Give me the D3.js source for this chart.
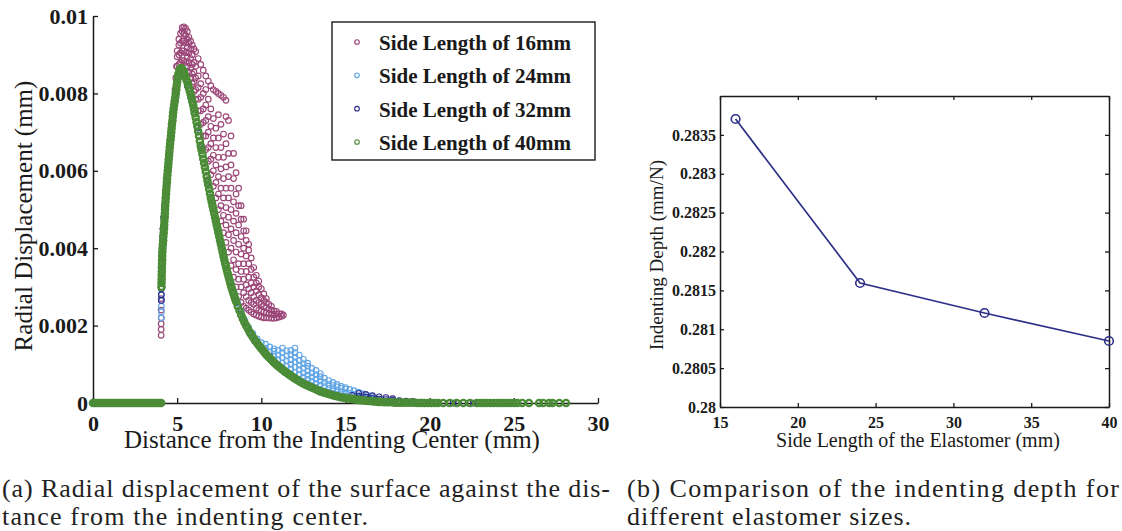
<!DOCTYPE html>
<html>
<head>
<meta charset="utf-8">
<script src="https://cdn.jsdelivr.net/npm/d3@7"></script>
<style>
	body{margin:0;background:white}
	svg{display:block}
</style>
</head>
<body>
<svg></svg>
<script>
var w = 1122
var h = 531
var backColor = "white"
var fontFam = "'Liberation Serif', 'Times New Roman', serif"

// ---- panel (a): radial displacement (mm) vs distance from center (mm)
// every row is [x, y, y, ...] : one distance and the readings at it
var xTicksA = [0, 5, 10, 15, 20, 25, 30]
var yTicksA = [0, 0.002, 0.004, 0.006, 0.008, 0.01]
var yTickLabelsA = ["0", "0.002", "0.004", "0.006", "0.008", "0.01"]
var seriesNames = ["Side Length of 16mm", "Side Length of 24mm", "Side Length of 32mm", "Side Length of 40mm"]

var side16 = [
	[4.05,.00175,.0019,.00205,.0022,.0024,.0027,.003],[4.06,.0033],[4.08,.0036],[4.1,.0039],[4.13,.0042],[4.17,.0045],
	[4.21,.0048],[4.25,.0051],[4.3,.0054],[4.35,.0057],[4.41,.006],[4.47,.0063],[4.53,.0066],[4.6,.0069],[4.67,.0072],
	[4.74,.0075],[4.81,.0078],[4.87,.0081],[4.92,.0084],[4.96,.0087],
	[5.0,.0087,.00895,.0091],
	[5.1,.00875,.009,.00925,.0094],
	[5.2,.0088,.00905,.0093,.00955],
	[5.3,.00885,.0091,.00935,.0096,.0097],
	[5.4,.00885,.0091,.00935,.00955,.00972],
	[5.5,.0088,.00905,.0093,.0095,.00968],
	[5.6,.0087,.00895,.0092,.0094,.0096],
	[5.7,.00855,.0088,.00905,.0093,.00945],
	[5.8,.0084,.00865,.0089,.00915,.00935],
	[5.9,.00825,.0085,.00875,.009,.00925],
	[6.0,.00805,.0083,.00855,.0088,.00915],
	[6.1,.00785,.0081,.0084,.0087,.00908],
	[6.25,.00755,.00785,.00815,.00845,.0089],
	[6.4,.0072,.00755,.0079,.00825,.00875],
	[6.55,.0069,.00725,.0076,.008,.0086],
	[6.7,.00655,.0069,.0073,.0077,.0081,.00845],
	[6.85,.00625,.0066,.007,.0074,.00785,.00832],
	[7.0,.0059,.0063,.0067,.00715,.0076,.0082],
	[7.15,.0056,.006,.0064,.00685,.00735,.0081],
	[7.3,.0053,.0057,.00615,.0066,.0071,.00805],
	[7.45,.005,.0054,.00585,.00635,.00685,.00745,.008],
	[7.6,.0047,.0051,.00555,.00605,.0066,.0072,.00795],
	[7.75,.0044,.00485,.0053,.0058,.00635,.00695,.0079],
	[7.9,.00415,.0046,.00505,.00555,.0061,.0067,.0074,.00782],
	[8.05,.0039,.00435,.0048,.0053,.00585,.00645,.0073],
	[8.2,.00355,.004,.0045,.005,.00555,.00615,.0069],
	[8.35,.00325,.0037,.0042,.0047,.0052,.0058,.00645],
	[8.5,.003,.00345,.0039,.0044,.0049,.0054,.00595],
	[8.65,.00275,.0032,.0036,.0041,.0046,.0051,.00555],
	[8.8,.0026,.003,.0034,.00385,.0043,.00475,.0051],
	[8.95,.0025,.00285,.0032,.0036,.004,.00445,.00475],
	[9.1,.00245,.00275,.00305,.0034,.0038,.0042,.00445],
	[9.25,.0024,.00265,.00295,.00325,.0036,.00395,.0041],
	[9.4,.00235,.0026,.00285,.0031,.00345,.00375],
	[9.55,.0023,.00255,.00275,.003,.00325,.0035],
	[9.7,.00227,.00245,.00265,.0029,.0031,.0033],
	[9.85,.00224,.0024,.0026,.0028,.003,.00315],
	[10,.00222,.00238,.00255,.00272,.00295],
	[10.15,.0022,.00235,.0025,.00265,.00282],
	[10.3,.0022,.00233,.00246,.0026,.0027],
	[10.45,.0022,.00231,.00242,.00255],
	[10.6,.00219,.0023,.0024,.0025],
	[10.75,.00219,.00228,.00238],
	[10.9,.0022,.0023,.00237],
	[11.05,.00222,.0023],
	[11.2,.00224,.0023],
	[11.31,.00227]
]

var side24 = [
	[4.06,.0022,.00235,.0025,.00265,.0028],
	[4.1,.0036],[4.2,.0044],[4.3,.0051],[4.45,.006],[4.6,.0068],[4.8,.0077],[5.0,.0083],[5.2,.0086],[5.45,.0085],
	[5.7,.0081],[6.0,.0076],[6.3,.0069],[6.6,.0062],[6.9,.0055],[7.2,.0049],[7.5,.0043],
	[7.6,.00416],[7.8,.00378],[8.0,.00343],[8.2,.00311],[8.4,.00283],[8.6,.00258],[8.8,.00236],
	[9.0,.00214],[9.25,.00195],[9.5,.00174,.0018],[9.75,.00158,.00166],[10,.00145,.00156],
	[10.25,.00131,.00142,.00152],
	[10.5,.0012,.00132,.00145],
	[10.75,.0011,.00122,.00134,.0014],
	[11,.001,.00112,.00124,.00136],
	[11.25,.00092,.00104,.00117,.0013,.00142],
	[11.5,.00083,.00096,.00109,.00122,.00135],
	[11.75,.00076,.00088,.001,.00112,.00125,.00136],
	[12,.00068,.0008,.00093,.00106,.00118,.0013,.00142],
	[12.25,.00062,.00074,.00086,.00098,.0011,.00124],
	[12.5,.00056,.00067,.00078,.0009,.00102,.00113],
	[12.75,.0005,.00061,.00072,.00083,.00095,.00103],
	[13,.00045,.00056,.00067,.00078,.0009],
	[13.25,.0004,.00051,.00062,.00073,.00084],
	[13.5,.00035,.00046,.00057,.00068,.00076],
	[13.75,.00031,.00042,.00053,.00064],
	[14,.00028,.00038,.00048,.00058],
	[14.25,.00025,.00035,.00045,.00053],
	[14.5,.00022,.00032,.00042,.00048],
	[14.75,.00019,.00029,.00038,.00043],
	[15,.00017,.00027,.00036,.0004],
	[15.25,.00015,.00025,.00035],
	[15.5,.00013,.00022,.00032],
	[15.75,.00011,.00019,.00028],
	[16,.0001,.00017,.00024],
	[16.3,.00008,.00014,.0002],
	[16.6,.00006,.00011,.00016],
	[16.9,.00005,.00009]
]

var side32 = [
	[4.06,.00265,.0028,.00295],[4.07,.0031,.0033],[4.08,.0035],[4.09,.0037],[4.1,.0039],[4.11,.0041],[4.13,.0043],
	[4.15,.0045],[4.2,.0048],[4.25,.0051],[4.3,.0054],[4.36,.0057],[4.42,.006],[4.49,.0064],[4.57,.0068],[4.66,.0072],
	[4.76,.0076],[4.88,.008],[5.0,.0083],[5.12,.0085],[5.25,.00858],[5.4,.0085],[5.6,.0082],[5.8,.0079],[6.0,.0075],
	[6.2,.0071],[6.4,.0066],[6.6,.0062],[6.8,.0057],[7.0,.0053],[7.2,.0049],[7.4,.0045],[7.6,.0041],[7.8,.0037],
	[8.0,.0034],[8.25,.003],[8.5,.0026],[8.75,.0023],[9,.0021],[9.3,.0018],[9.6,.0016],[10,.0014],[10.5,.0012],
	[11,.00096],[11.5,.00078],[12,.00064],[12.5,.00051],[13,.0004],[13.5,.00031],[14,.00024],[14.5,.00018],[15,.00014],
	[15.4,.00012,.0002],[15.8,.0001,.00017,.00025],[16.2,.00008,.00015,.00022],[16.6,.00006,.00012,.00019],
	[17,.00005,.0001,.00016],[17.4,.00004,.00009,.00014],[17.8,.00003,.00007,.00011],[18.2,.00003,.00006],
	[18.6,.00002,.00005],[19,.00002,.00004],[19.5,.00002],[20,.00001],[20.4,.00001],[20.8,0],[21.1,0],[21.4,0],
	[21.7,0],[22,0],[22.3,0],[22.6,0]
]

var side40 = [
	[0,0],[.12,0],[.24,0],[.36,0],[.48,0],[.6,0],[.72,0],[.84,0],[.96,0],[1.08,0],[1.2,0],[1.32,0],[1.44,0],[1.56,0],
	[1.68,0],[1.8,0],[1.92,0],[2.04,0],[2.16,0],[2.28,0],[2.4,0],[2.52,0],[2.64,0],[2.76,0],[2.88,0],[3,0],[3.12,0],
	[3.24,0],[3.36,0],[3.48,0],[3.6,0],[3.72,0],[3.84,0],[3.96,0],[4.05,0],
	[4.07,.003,.0031],[4.08,.0032,.0033],[4.09,.0034,.0035],[4.1,.0036],[4.11,.0037,.0038],[4.12,.0039],[4.13,.004],
	[4.15,.0041],[4.17,.0042],[4.18,.0043],[4.2,.0044],[4.22,.0045],[4.23,.0046],[4.24,.0047],[4.26,.0048],[4.27,.0049],
	[4.28,.005],[4.29,.0051],[4.31,.0052],[4.32,.0053],[4.34,.0054],[4.35,.0055],[4.37,.0056],[4.39,.0057],[4.4,.0058],
	[4.42,.0059],[4.44,.006],[4.46,.0061],[4.48,.0062],[4.5,.0063],[4.52,.0064],[4.54,.0065],[4.56,.0066],[4.58,.0067],
	[4.61,.0068],[4.63,.0069],[4.65,.007],[4.67,.0071],[4.69,.0072],[4.72,.0073],[4.74,.0074],[4.76,.0075],[4.79,.0076],
	[4.82,.0077],[4.86,.0078],[4.89,.0079],[4.92,.008],[4.95,.0081],[4.97,.0082],[5,.0083],[5.04,.0084],[5.07,.0085],
	[5.13,.0086],[5.2,.00865],
	[5.25,.00865],[5.3,.00863],[5.35,.00859],[5.4,.00855],[5.45,.00849],[5.5,.00843],[5.55,.00836],[5.6,.0083],
	[5.65,.00822],[5.7,.00814],[5.75,.00806],[5.8,.00798],[5.85,.00789],[5.9,.00779],[5.95,.0077],[6,.0076],
	[6.05,.00749],[6.1,.00738],[6.15,.00726],[6.2,.00715],[6.25,.00702],[6.3,.0069],[6.35,.00677],[6.4,.00665],
	[6.45,.00654],[6.5,.00643],[6.55,.00631],[6.6,.0062],[6.65,.00609],[6.7,.00598],[6.75,.00586],[6.8,.00575],
	[6.85,.00564],[6.9,.00553],[6.95,.00541],[7,.0053],[7.05,.0052],[7.1,.0051],[7.15,.005],[7.2,.0049],[7.25,.0048],
	[7.3,.0047],[7.35,.0046],[7.4,.0045],[7.45,.0044],[7.5,.0043],[7.55,.0042],[7.6,.0041],[7.65,.004],[7.7,.0039],
	[7.75,.0038],[7.8,.0037],[7.85,.00361],[7.9,.00353],[7.95,.00344],[8,.00335],[8.05,.00327],[8.1,.00319],
	[8.15,.00311],[8.2,.00303],[8.25,.00296],[8.3,.00289],[8.35,.00282],[8.4,.00275],[8.45,.00269],[8.5,.00263],
	[8.6,.0025],[8.7,.00239],[8.8,.00228],[8.9,.00218],[9,.00208],[9.1,.002],[9.2,.00192],[9.3,.00184],[9.4,.00177],
	[9.5,.0017],[9.6,.00164],[9.7,.00158],[9.8,.00152],[9.9,.00146],[10,.00141],[10.1,.00136],[10.2,.0013],
	[10.3,.00125],[10.4,.0012],[10.5,.00116],[10.6,.00112],[10.7,.00107],[10.8,.00103],[10.9,.00099],[11,.00095],
	[11.1,.00092],[11.2,.00088],[11.3,.00085],[11.4,.00081],[11.5,.00078],[11.6,.00075],[11.7,.00072],[11.8,.00069],
	[11.9,.00066],[12,.00063],[12.15,.00059],[12.3,.00055],[12.45,.00051],[12.6,.00048],[12.75,.00045],[12.9,.00042],
	[13.05,.00039],[13.2,.00036],[13.35,.00033],[13.5,.0003],[13.65,.00028],[13.8,.00026],[13.95,.00024],[14.1,.00022],
	[14.25,.0002],[14.4,.00018],[14.55,.00017],[14.7,.00015],[14.85,.00014],[15,.00013],[15.15,.00012],[15.3,.00011],
	[15.45,.0001],[15.6,.00009],[15.75,.00008],[15.9,.00007],[16.05,.00007],[16.2,.00006],[16.35,.00005],[16.5,.00005],
	[16.65,.00004],[16.8,.00004],[16.95,.00003],[17.1,.00003],[17.3,.00002],[17.5,.00002],[17.7,.00002],[17.9,.00001],
	[18.1,.00001],[18.3,.00001],[18.5,.00001],[18.7,.00001],[18.9,.00001],[19.1,.00001],[19.3,0],[19.5,0],[19.7,0],
	[19.9,0],[20.1,0],[20.3,0],[20.5,0],[20.8,0],[21.2,0],[21.6,0],[22,0],[22.4,0],[22.8,0],[23,0],[23.2,0],[23.4,0],
	[23.6,0],[23.8,0],[24,0],[24.2,0],[24.4,0],[24.6,0],[24.8,0],[25,0],[25.2,0],[25.5,0],[25.9,0],[26.5,0],[26.75,0],
	[27.1,0],[27.3,0],[27.7,0],[28.1,0]
]

var allSeries = [side16, side24, side32, side40]
var seriesColors = ["#9b4678", "#62a6e6", "#2b2c86", "#4b8c37"]

// ---- panel (b): indenting depth (mm/N) vs side length (mm)
var sideLengths = [16, 24, 32, 40]
var indentDepth = [0.283704, 0.281595, 0.281209, 0.280849]
var xTicksB = [15, 20, 25, 30, 35, 40]
var yTicksB = [0.28, 0.2805, 0.281, 0.2815, 0.282, 0.2825, 0.283, 0.2835]
var yTickLabelsB = ["0.28", "0.2805", "0.281", "0.2815", "0.282", "0.2825", "0.283", "0.2835"]
var lineColor = "#2e3088"

var captionA = ["(a) Radial displacement of the surface against the dis-", "tance from the indenting center."]
var captionB = ["(b) Comparison of the indenting depth for", "different elastomer sizes."]


var svg = d3.select("svg")
	.attr("width", w)
	.attr("height", h)
	.style("background-color", backColor)
	.style("font-family", fontFam)

//scales
var xA = d3.scaleLinear().domain([0, 30]).range([93, 598])
var yA = d3.scaleLinear().domain([0, 0.01]).range([403, 16])
var xB = d3.scaleLinear().domain([15, 40]).range([720, 1109])
var yB = d3.scaleLinear().domain([0.28, 0.284]).range([407, 96])

function styleAxis(g, size){
	g.select(".domain").attr("stroke", "#1a1a1a").attr("stroke-width", 1.5)
	g.selectAll(".tick line").attr("stroke", "#1a1a1a").attr("stroke-width", 1.3)
	g.selectAll(".tick text")
		.attr("fill", "#1a1a1a")
		.style("font-family", fontFam)
		.style("font-size", size + "px")
		.style("font-weight", "bold")
}

// ===== panel (a) axes
var axA = svg.append("g")

var yAxisA = axA.append("g")
	.attr("transform", "translate(" + xA(0) + ",0)")
	.call(d3.axisLeft(yA).tickValues(yTicksA).tickSize(-5).tickSizeOuter(0).tickPadding(5)
		.tickFormat(function(d, i){ return yTickLabelsA[i] }))
styleAxis(yAxisA, 22)

var xAxisA = axA.append("g")
	.attr("transform", "translate(0," + yA(0) + ")")
	.call(d3.axisBottom(xA).tickValues(xTicksA).tickSize(-5).tickSizeOuter(0).tickPadding(12)
		.tickFormat(d3.format("d")))
styleAxis(xAxisA, 22)

axA.append("text")
	.attr("x", 332)
	.attr("y", 448)
	.attr("text-anchor", "middle")
	.style("font-size", "25px")
	.attr("fill", "#1a1a1a")
	.text("Distance from the Indenting Center (mm)")

axA.append("text")
	.attr("transform", "translate(32,216) rotate(-90)")
	.attr("text-anchor", "middle")
	.style("font-size", "25px")
	.attr("fill", "#1a1a1a")
	.text("Radial Displacement (mm)")

// scatter points, 16mm drawn first so 40mm ends on top
allSeries.forEach(function(rows, si){
	var pts = []
	rows.forEach(function(r){
		for (var k = 1; k < r.length; k++) pts.push([r[0], r[k]])
	})
	var big = si == 3
	svg.append("g")
		.attr("class", "series" + si)
		.selectAll("circle")
		.data(pts)
		.enter()
		.append("circle")
		.attr("cx", function(d){ return xA(d[0]) })
		.attr("cy", function(d){ return yA(d[1]) })
		.attr("r", big ? 3.1 : 2.8)
		.attr("fill", "none")
		.attr("stroke", seriesColors[si])
		.attr("stroke-width", big ? 2.4 : 1.15)
})

//legend
var leg = svg.append("g")
leg.append("rect")
	.attr("x", 332)
	.attr("y", 22)
	.attr("width", 263)
	.attr("height", 138)
	.attr("fill", "white")
	.attr("stroke", "#1a1a1a")
	.attr("stroke-width", 1.4)

var legY = d3.scalePoint().domain(seriesNames).range([42, 142])

leg.selectAll("circle")
	.data(seriesNames)
	.enter()
	.append("circle")
	.attr("cx", 357)
	.attr("cy", function(d){ return legY(d) })
	.attr("r", 2.3)
	.attr("fill", "none")
	.attr("stroke", function(d, i){ return seriesColors[i] })
	.attr("stroke-width", 1.1)

leg.selectAll("text")
	.data(seriesNames)
	.enter()
	.append("text")
	.attr("x", 379)
	.attr("y", function(d){ return legY(d) + 8 })
	.style("font-size", "21px")
	.style("font-weight", "bold")
	.attr("fill", "#1a1a1a")
	.text(function(d){ return d })

// ===== panel (b)
var axB = svg.append("g")

var yAxisB = axB.append("g")
	.attr("transform", "translate(" + xB(15) + ",0)")
	.call(d3.axisLeft(yB).tickValues(yTicksB).tickSize(-4).tickSizeOuter(0).tickPadding(4)
		.tickFormat(function(d, i){ return yTickLabelsB[i] }))
styleAxis(yAxisB, 16)

var xAxisB = axB.append("g")
	.attr("transform", "translate(0," + yB(0.28) + ")")
	.call(d3.axisBottom(xB).tickValues(xTicksB).tickSize(-4).tickSizeOuter(0).tickPadding(10)
		.tickFormat(d3.format("d")))
styleAxis(xAxisB, 16)

var topB = axB.append("g")
	.attr("transform", "translate(0," + yB(0.284) + ")")
	.call(d3.axisTop(xB).tickValues(xTicksB).tickSize(-4).tickSizeOuter(0).tickFormat(""))
styleAxis(topB, 16)

var rightB = axB.append("g")
	.attr("transform", "translate(" + xB(40) + ",0)")
	.call(d3.axisRight(yB).tickValues(yTicksB).tickSize(-4).tickSizeOuter(0).tickFormat(""))
styleAxis(rightB, 16)

axB.append("text")
	.attr("x", 918)
	.attr("y", 447)
	.attr("text-anchor", "middle")
	.style("font-size", "20px")
	.attr("fill", "#1a1a1a")
	.text("Side Length of the Elastomer (mm)")

axB.append("text")
	.attr("transform", "translate(663,255) rotate(-90)")
	.attr("text-anchor", "middle")
	.style("font-size", "19px")
	.attr("fill", "#1a1a1a")
	.text("Indenting Depth (mm/N)")

var depthLine = d3.line()
	.x(function(d, i){ return xB(sideLengths[i]) })
	.y(function(d){ return yB(d) })

svg.append("path")
	.attr("d", depthLine(indentDepth))
	.attr("fill", "none")
	.attr("stroke", lineColor)
	.attr("stroke-width", 1.7)

svg.append("g")
	.selectAll("circle")
	.data(indentDepth)
	.enter()
	.append("circle")
	.attr("cx", function(d, i){ return xB(sideLengths[i]) })
	.attr("cy", function(d){ return yB(d) })
	.attr("r", 4.3)
	.attr("fill", "none")
	.attr("stroke", lineColor)
	.attr("stroke-width", 1.6)

// ===== captions
var capStyle = function(sel){
	sel.style("font-size", "26px").attr("fill", "#222")
}
svg.append("text").attr("x", 2).attr("y", 497).attr("textLength", 608).call(capStyle).text(captionA[0])
svg.append("text").attr("x", 2).attr("y", 525).attr("textLength", 366).call(capStyle).text(captionA[1])
svg.append("text").attr("x", 627).attr("y", 497).attr("textLength", 492).call(capStyle).text(captionB[0])
svg.append("text").attr("x", 627).attr("y", 525).attr("textLength", 284).call(capStyle).text(captionB[1])

</script>
</body>
</html>
